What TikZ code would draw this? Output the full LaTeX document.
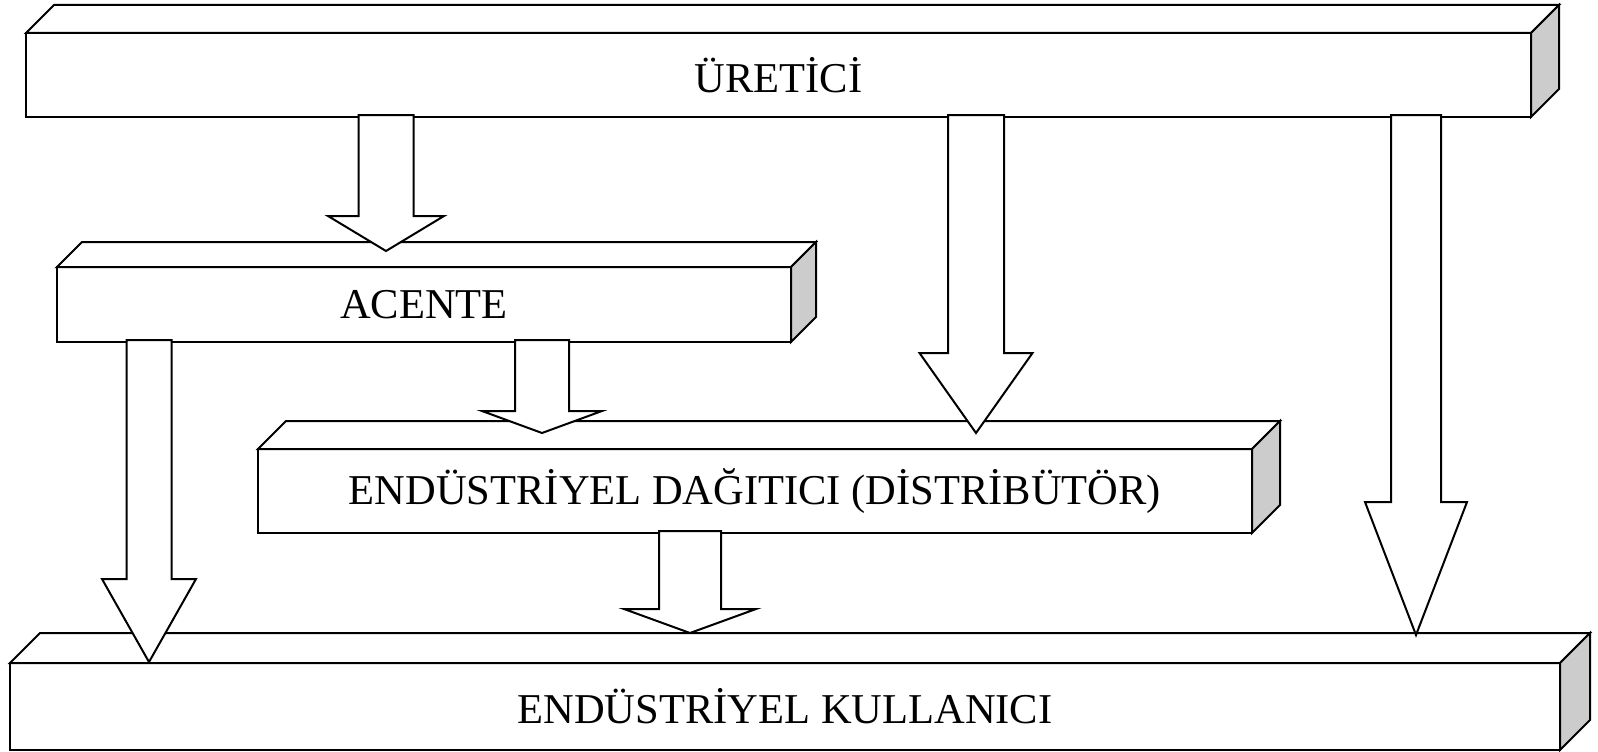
\documentclass[tikz,border=0pt]{standalone}
\usepackage{fontspec}
\setmainfont{Liberation Serif}
\usetikzlibrary{calc}

\tikzset{
  kutu/.style={draw, fill=white, line width=2pt, inner sep=0pt, outer sep=0pt,
    font=\fontsize{42.5}{50}\selectfont},
  yuz/.style={draw, fill=white, line width=2pt},
  yan/.style={yuz, fill=black!20},
  blokok/.style={draw, fill=white, line width=2pt},
}

% kutunun üst ve yan yüzü: #1 düğüm, #2 derinlik
\newcommand\kutuyuz[2]{%
  \draw[yuz] (#1.north west) -- ++(#2,-#2) -- ($(#1.north east)+(#2,-#2)$) -- (#1.north east) -- cycle;
  \draw[yan] (#1.north east) -- ++(#2,-#2) -- ($(#1.south east)+(#2,-#2)$) -- (#1.south east) -- cycle;
}

% blok ok: #1 kaynak, #2 uç, #3 gövde yarı eni, #4 baş yarı eni, #5 baş boyu
\newcommand\okciz[5]{%
  \draw[blokok] let \p1=(#2), \p2=(#1.south) in
    (\x1-#3,\y2+2) -- (\x1-#3,\y1+#5) -- (\x1-#4,\y1+#5) -- (\x1,\y1)
    -- (\x1+#4,\y1+#5) -- (\x1+#3,\y1+#5) -- (\x1+#3,\y2+2) -- cycle;
}

\begin{document}
\begin{tikzpicture}[x=1pt, y=-1pt]
  \useasboundingbox (0,0) rectangle (1598,752);

  % kutular
  \node[kutu, minimum width=1505, minimum height=84] (uretici) at (778.5,75) {ÜRETİCİ};
  \kutuyuz{uretici}{28}
  \node[kutu, minimum width=734, minimum height=75] (acente) at (424,304.5) {ACENTE};
  \kutuyuz{acente}{25}
  \node[kutu, minimum width=994, minimum height=84] (dagitici) at (755,491) {ENDÜSTRİYEL DAĞITICI (DİSTRİBÜTÖR)};
  \kutuyuz{dagitici}{28}
  \node[kutu, minimum width=1550, minimum height=87] (kullanici) at (785,706.5) {ENDÜSTRİYEL KULLANICI};
  \kutuyuz{kullanici}{30}

  % okların uçları
  \coordinate (ur-ac) at (386,251);
  \coordinate (ur-da) at (976,433);
  \coordinate (ur-ku) at (1416,635);
  \coordinate (ac-ku) at (149,662);
  \coordinate (ac-da) at (542,433);
  \coordinate (da-ku) at (690,633);

  % oklar
  \okciz{uretici}{ur-ac}{27.5}{58}{35}
  \okciz{uretici}{ur-da}{28}{56.5}{80}
  \okciz{uretici}{ur-ku}{25}{51}{133}
  \okciz{acente}{ac-ku}{22.5}{47}{83}
  \okciz{acente}{ac-da}{27}{60}{22}
  \okciz{dagitici}{da-ku}{31}{66}{24}
\end{tikzpicture}
\end{document}
